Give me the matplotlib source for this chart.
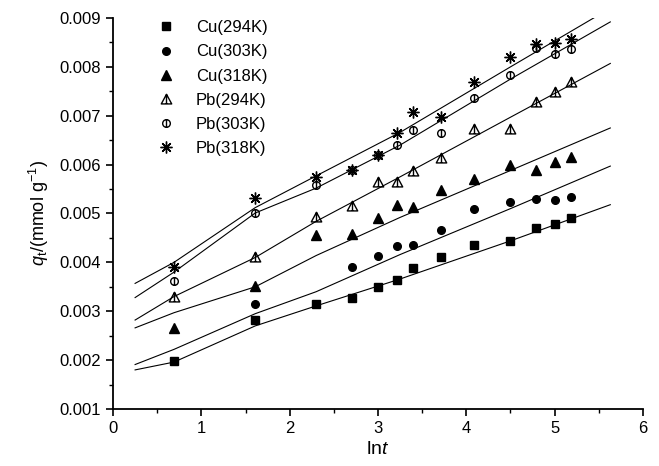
import numpy as np
import matplotlib
matplotlib.use("Agg")
import matplotlib.pyplot as plt
from matplotlib.path import Path
from matplotlib.ticker import MultipleLocator, FormatStrFormatter

plt.rcParams['font.family'] = ['Liberation Sans', 'DejaVu Sans']
plt.rcParams['mathtext.fontset'] = 'custom'
plt.rcParams['mathtext.rm'] = 'Liberation Sans'
plt.rcParams['mathtext.it'] = 'Liberation Sans:italic'

# ln t values of the measurements
lnt = [0.69, 1.61, 2.30, 2.71, 3.00, 3.22, 3.40, 3.71, 4.09, 4.50, 4.79, 5.00, 5.19]

# measured q_t (mmol/g); None = not visible in the picture
cu294 = [0.00198, 0.00282, 0.00314, 0.00328, 0.00350, 0.00364, 0.00389, 0.00411, 0.00435, 0.00444, 0.00470, 0.00478, 0.00491]
cu303 = [None, 0.00314, None, 0.00390, 0.00413, 0.00433, 0.00435, 0.00466, 0.00510, 0.00524, 0.00529, 0.00527, 0.00534]
cu318 = [0.00265, 0.00352, 0.00456, 0.00459, 0.00490, 0.00517, 0.00514, 0.00548, 0.00570, 0.00599, 0.00589, 0.00606, 0.00615]
pb294 = [0.00330, 0.00410, 0.00493, 0.00515, 0.00565, 0.00565, 0.00587, 0.00613, 0.00672, 0.00672, 0.00728, 0.00749, 0.00769]
pb303 = [0.00362, 0.00501, 0.00558, 0.00589, 0.00619, 0.00640, 0.00670, 0.00665, 0.00737, 0.00783, 0.00838, 0.00827, 0.00836]
pb318 = [0.00391, 0.00531, 0.00575, 0.00589, 0.00619, 0.00664, 0.00708, 0.00697, 0.00769, 0.00820, 0.00846, 0.00849, 0.00858]

# fitted curves, read at a few x positions
fit_x = [0.25, 0.69, 1.61, 2.30, 3.25, 4.50, 5.63]
fit_cu294 = [0.00180, 0.00196, 0.00270, 0.00311, 0.00366, 0.00444, 0.00518]
fit_cu303 = [0.00191, 0.00222, 0.00295, 0.00340, 0.00416, 0.00510, 0.00597]
fit_cu318 = [0.00266, 0.00297, 0.00350, 0.00414, 0.00492, 0.00588, 0.00675]
fit_pb294 = [0.00282, 0.00330, 0.00410, 0.00484, 0.00575, 0.00697, 0.00807]
fit_pb303 = [0.00328, 0.00380, 0.00501, 0.00552, 0.00640, 0.00775, 0.00892]
fit_pb318 = [0.00357, 0.00400, 0.00512, 0.00577, 0.00666, 0.00800, 0.00920]

labels = ['Cu(294K)', 'Cu(303K)', 'Cu(318K)', 'Pb(294K)', 'Pb(303K)', 'Pb(318K)']

# markers with a vertical bar through them
tri_bar = Path([(-1, -0.85), (1, -0.85), (0, 1), (-1, -0.85), (0, 1), (0, -0.85)],
               [Path.MOVETO, Path.LINETO, Path.LINETO, Path.CLOSEPOLY, Path.MOVETO, Path.LINETO])
circ_bar = Path.make_compound_path(Path.unit_circle(),
                                   Path([(0, 1), (0, -1)], [Path.MOVETO, Path.LINETO]))

styles = [
    dict(marker='s', mfc='black', ms=5.5),
    dict(marker='o', mfc='black', ms=5.5),
    dict(marker='^', mfc='black', ms=6.5),
    dict(marker=tri_bar, mfc='white', ms=7.5),
    dict(marker=circ_bar, mfc='white', ms=5.5),
    dict(marker=(8, 2, 0), mfc='black', ms=8.5),
]

fig = plt.figure(figsize=(6.59, 4.66), dpi=100)
ax = fig.add_axes([0.1715, 0.1223, 0.8042, 0.8391])

data = [cu294, cu303, cu318, pb294, pb303, pb318]
fits = [fit_cu294, fit_cu303, fit_cu318, fit_pb294, fit_pb303, fit_pb318]

for vals, st, lab in zip(data, styles, labels):
    xs = [x for x, v in zip(lnt, vals) if v is not None]
    ys = [v for v in vals if v is not None]
    ax.plot(xs, ys, linestyle='none', mec='black', mew=1.0, label=lab, **st)

for f in fits:
    ax.plot(fit_x, f, color='black', lw=0.8)

ax.set_xlim(0, 6)
ax.set_ylim(0.001, 0.009)
ax.xaxis.set_major_locator(MultipleLocator(1))
ax.xaxis.set_minor_locator(MultipleLocator(0.5))
ax.yaxis.set_major_locator(MultipleLocator(0.001))
ax.yaxis.set_minor_locator(MultipleLocator(0.0005))
ax.yaxis.set_major_formatter(FormatStrFormatter('%.3f'))
ax.tick_params(which='major', direction='out', length=5, width=1.2, labelsize=12)
ax.tick_params(which='minor', direction='out', length=3, width=1.0)
ax.spines['top'].set_visible(False)
ax.spines['right'].set_visible(False)
ax.spines['left'].set_linewidth(1.3)
ax.spines['bottom'].set_linewidth(1.3)

ax.set_xlabel(r'ln$\it{t}$', fontsize=14, labelpad=4)
ax.set_ylabel(r'$\it{q}_{\rm t}$/(mmol g$^{-1}$)', fontsize=13, labelpad=6)

ax.legend(loc='upper left', bbox_to_anchor=(0.065, 1.02), frameon=False, fontsize=12,
          handletextpad=1.3, labelspacing=0.55, handlelength=1.0, borderaxespad=0.2)

fig.savefig('out.png', dpi=100)
